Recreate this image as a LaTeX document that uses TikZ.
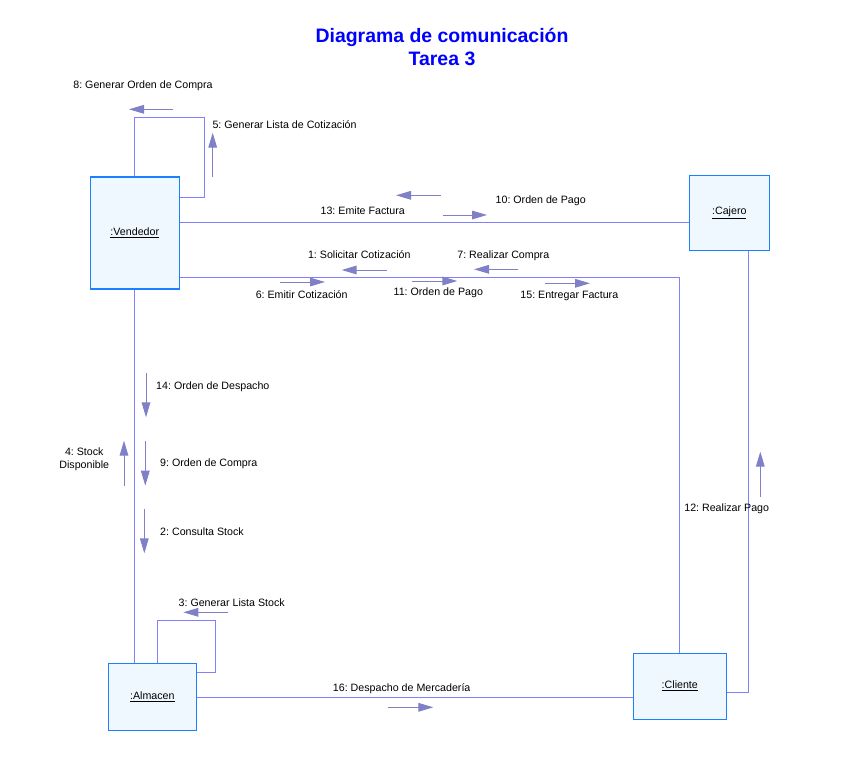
\documentclass[tikz,border=0pt]{standalone}
\usepackage{fontspec}
\setmainfont{Liberation Sans}
\frenchspacing
\definecolor{ComLink}{HTML}{8080FF}
\definecolor{ComMsg}{HTML}{8080C8}
\definecolor{ComBorder}{HTML}{1A80FF}
\definecolor{ComFill}{HTML}{F0F8FF}
\definecolor{ComTitle}{HTML}{0000FF}
\usetikzlibrary{arrows.meta,positioning,calc}

\begin{document}
\begin{tikzpicture}[x=0.03cm,y=-0.03cm,
      obj/.style={draw=ComBorder,line width=1.2pt,fill=ComFill,inner sep=0pt,
                  font=\fontsize{9.1}{11}\selectfont},
      link/.style={draw=ComLink,line width=0.85pt},
      msg/.style={-{Triangle[length=4.5mm,width=2.6mm]},draw=ComMsg,fill=ComMsg,line width=0.85pt},
      lbl/.style={font=\fontsize{9.1}{11}\selectfont,inner sep=0pt,align=center}]
    \useasboundingbox (0,0) rectangle (852,778);
    \node[font=\bfseries\fontsize{16.6}{19.6}\selectfont,text=ComTitle,align=center] (title) at (442,46.5)
      {Diagrama de comunicación\\Tarea 3};
    % objetos
    \node[obj,minimum width=89*0.03cm,minimum height=112*0.03cm] (ven) at (134.8,233)   {\underline{:Vendedor}};
    \node[obj,minimum width=80*0.03cm,minimum height=75*0.03cm]  (caj) at (729.3,212.7) {\underline{:Cajero}};
    \node[obj,minimum width=88*0.03cm,minimum height=67*0.03cm]  (alm) at (152.3,696.7) {\underline{:Almacen}};
    \node[obj,minimum width=93*0.03cm,minimum height=66*0.03cm]  (cli) at (679.8,686.2) {\underline{:Cliente}};
    % enlaces
    \draw[link] (ven.north) |- (204.3,117.3) |- (ven.east |- 0,197);
    \draw[link] (ven.east |- 0,222.3) -- (caj.west |- 0,222.3);
    \draw[link] (ven.east |- 0,277) -| (cli.north);
    \draw[link] (caj.south -| 748.3,0) |- (cli.east |- 0,692);
    \draw[link] (ven.south) -- (ven.south |- alm.north);
    \draw[link] (alm.north -| 157.7,0) |- (215.3,620.7) |- (alm.east |- 0,672);
    \draw[link] (alm.east |- 0,697.7) -- (cli.west |- 0,697.7);
    % mensajes
    \foreach \xa/\ya/\xb/\yb in {173/109.3/129/109.3, 212.7/176.7/212.7/132.7,
        440.7/195.3/396/195.3, 443/215/487/215, 386.7/270/341.7/270,
        518.3/269.3/474/269.3, 280/282/325/282, 412.3/281/457.3/281,
        545/283.3/590/283.3, 146/373.3/146/417.3, 145.3/441/145.3/485.7,
        144.3/509.3/144.3/553.3, 124/485.7/124/440.7, 760.3/496.7/760.3/451.7,
        227.7/612.3/183.3/612.3, 388.3/707.3/433.3/707.3}
      \draw[msg] (\xa,\ya) -- (\xb,\yb);
    \foreach \n/\x/\y/\t in {l8/143/86/{8: Generar Orden de Compra},
        l13/362.7/210.5/{13: Emite Factura}, l10/540.7/200.7/{10: Orden de Pago},
        l1/359.3/255/{1: Solicitar Cotización}, l7/503.3/256/{7: Realizar Compra},
        l6/301.7/294.3/{6: Emitir Cotización}, l11/438.3/293/{11: Orden de Pago},
        l15/569.3/296/{15: Entregar Factura}, l4/84.3/459/{4: Stock\\Disponible},
        l12/726.7/509/{12: Realizar Pago}, l3/231.7/602.3/{3: Generar Lista Stock},
        l16/401.7/688.3/{16: Despacho de Mercadería}}
      \node[lbl] (\n) at (\x,\y) {\t};
    \foreach \n/\x/\y/\t in {l5/212.3/125/{5: Generar Lista de Cotización},
        l14/156/386.7/{14: Orden de Despacho}, l9/160/464/{9: Orden de Compra},
        l2/160/531.7/{2: Consulta Stock}}
      \node[lbl,anchor=west] (\n) at (\x,\y) {\t};
  \end{tikzpicture}
\end{document}
